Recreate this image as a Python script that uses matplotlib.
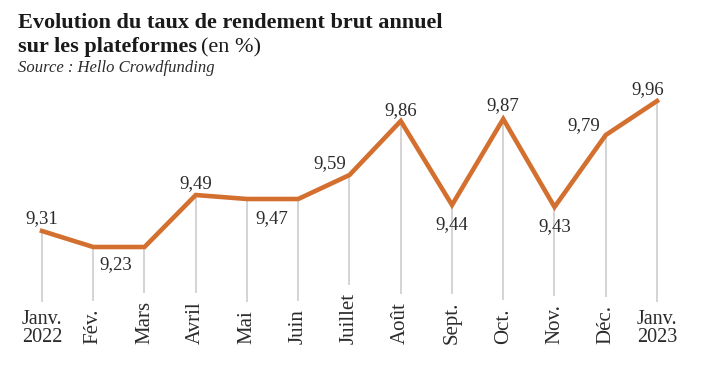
import matplotlib
matplotlib.use('Agg')
import matplotlib.pyplot as plt
import matplotlib.transforms as mtransforms

# data
months = ['Janv.\n2022', 'Fév.', 'Mars', 'Avril', 'Mai', 'Juin', 'Juillet',
          'Août', 'Sept.', 'Oct.', 'Nov.', 'Déc.', 'Janv.\n2023']
rates = [9.31, 9.23, 9.23, 9.49, 9.47, 9.47, 9.59, 9.86, 9.44, 9.87, 9.43, 9.79, 9.96]

# which points get a value label, and where (offset in pixels from the point)
label_idx = [0, 1, 3, 4, 6, 7, 8, 9, 10, 11, 12]
label_dx = [0, 23, 0, 25, -20, 0, 0, 0, 0, -22, -9]
label_dy = [8, -22, 7, -24, 7, 6, -24, 9, -24, 5, 7]

orange = '#d4702f'
grey_line = '#c9c9c9'
text_col = '#2b2b2b'
font = 'Liberation Serif'

fig = plt.figure(figsize=(7.02, 3.70), dpi=100)
ax = fig.add_axes([0, 0, 1, 1])
ax.axis('off')

# pixel mapping: x=42 + 51.25*i, y=231 - 200*(v-9.31)
ax.set_xlim(-42 / 51.25, (702 - 42) / 51.25)
ax.set_ylim(9.31 - (370 - 231) / 200, 9.31 + 231 / 200)

x = list(range(len(months)))

# month labels
trans = mtransforms.blended_transform_factory(ax.transData, ax.transAxes)
tick_texts = []
for i, m in enumerate(months):
    if '\n' in m:
        t = ax.text(i, 1 - 347 / 370, m, transform=trans, ha='center', va='bottom',
                    fontsize=14.5, family=font, color=text_col, linespacing=0.92)
    else:
        t = ax.text(i, 1 - 344 / 370, m, transform=trans, ha='center', va='bottom',
                    rotation=90, fontsize=15, family=font, color=text_col)
    tick_texts.append(t)

fig.canvas.draw()
# grey drop lines stop a little above each month label
bottoms = []
for t in tick_texts:
    top_px = t.get_window_extent().y1  # from bottom of figure
    y_px = max(370 - 302, top_px + 8)
    bottoms.append(ax.transData.inverted().transform((0, y_px))[1])

ax.vlines(x, bottoms, rates, color=grey_line, lw=1.1, zorder=1)
ax.plot(x, rates, color=orange, lw=3.3, solid_joinstyle='miter', zorder=3)

for i, dx, dy in zip(label_idx, label_dx, label_dy):
    ax.annotate(f'{rates[i]:.2f}'.replace('.', ','), xy=(x[i], rates[i]),
                xytext=(dx, dy), textcoords='offset pixels',
                ha='center', va='baseline', fontsize=13.5,
                family=font, color=text_col, zorder=4)

# titles
fig.text(18 / 702, 1 - 28 / 370, 'Evolution du taux de rendement brut annuel',
         fontsize=16, fontweight='bold', family=font, color='#1a1a1a', va='baseline')
t = fig.text(18 / 702, 1 - 52 / 370, 'sur les plateformes',
             fontsize=16, fontweight='bold', family=font, color='#1a1a1a', va='baseline')
fig.canvas.draw()
bb = t.get_window_extent()
fig.text((bb.x1 + 4) / 702, 1 - 52 / 370, '(en %)',
         fontsize=16, family=font, color='#1a1a1a', va='baseline')
fig.text(18 / 702, 1 - 72 / 370, 'Source : Hello Crowdfunding',
         fontsize=12, style='italic', family=font, color=text_col, va='baseline')

fig.savefig('out.png', dpi=100, facecolor='white')
